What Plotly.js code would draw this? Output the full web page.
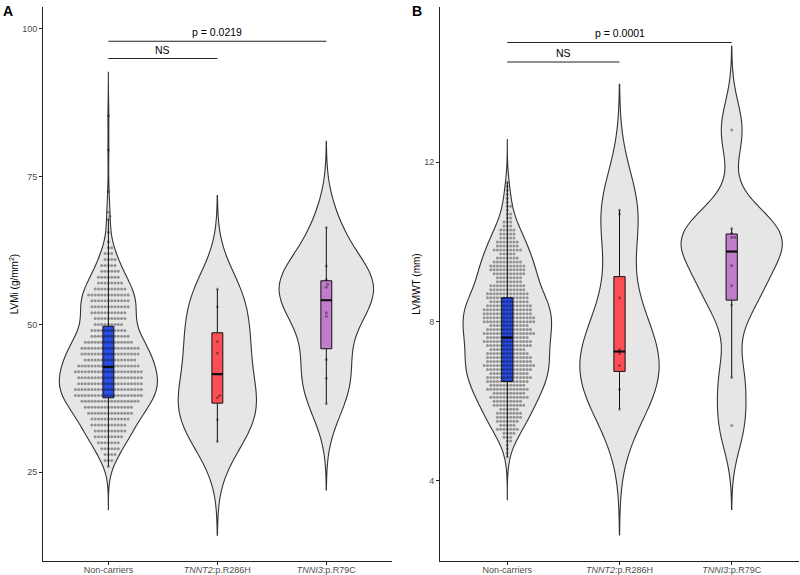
<!DOCTYPE html>
<html><head><meta charset="utf-8">
<script src="https://cdn.plot.ly/plotly-3.0.1.min.js"></script>
<style>html,body{margin:0;padding:0;background:#fff}#chart{width:800px;height:575px}</style>
</head><body><div id="chart"></div>
<script>
// ---------- data ----------
const categories = ['Non-carriers', 'TNNT2:p.R286H', 'TNNI3:p.R79C'];
const tickLabels = ['Non-carriers', '<i>TNNT2</i>:p.R286H', '<i>TNNI3</i>:p.R79C'];

// Panel A: LVMi (g/m²)
const lvmiNonCarrierValues = [26,27,28,29,30,31,32,33,34,35,36,37,38,39,40,41,42,43,44,45,46,47,48,49,50,51,52,53,54,55,56,57,58,59,60,61,62,63,64,65.6,67.8,68.3,69.0,72.5,79.5,85.3];
const lvmiNonCarrierCounts = [1,3,4,6,7,9,10,11,12,14,15,18,21,21,20,20,21,19,16,18,18,15,12,11,9,10,11,12,12,13,10,8,7,6,5,4,3,2,1,1,1,1,1,1,1,1];
const lvmiTNNT2 = [30.2, 33.9, 37.6, 38.0, 45.2, 47.1, 53.0, 56.0];
const lvmiTNNI3 = [36.6, 40.9, 44.1, 51.4, 52.0, 56.3, 56.8, 57.6, 59.9, 66.4];
const lvmiQ1 = [37.6, 36.7, 45.9];
const lvmiMedian = [42.8, 41.6, 54.1];
const lvmiQ3 = [49.7, 48.6, 57.4];
const lvmiWhiskerLow = [26.0, 30.2, 36.6];
const lvmiWhiskerHigh = [67.8, 56.0, 66.4];
const lvmiTickVals = [25, 50, 75, 100];
const lvmiComparisonLabels = ['NS', 'p = 0.0219'];

// Panel B: LVMWT (mm)
const lvmwtNonCarrierValues = [4.6,4.7,4.8,4.9,5.0,5.1,5.2,5.3,5.4,5.5,5.6,5.7,5.8,5.9,6.0,6.1,6.2,6.3,6.4,6.5,6.6,6.7,6.8,6.9,7.0,7.1,7.2,7.3,7.4,7.5,7.6,7.7,7.8,7.9,8.0,8.1,8.2,8.3,8.4,8.5,8.6,8.7,8.8,8.9,9.0,9.1,9.2,9.3,9.4,9.5,9.6,9.7,9.8,9.9,10.0,10.1,10.2,10.3,10.4,10.5,10.6,10.7,10.8,10.9,11.0,11.1,11.2,11.3,11.4,11.5];
const lvmwtNonCarrierCounts = [1,1,1,1,2,3,4,7,5,7,8,8,6,10,9,12,10,13,11,13,14,12,14,16,14,14,13,11,14,15,13,16,14,12,16,16,15,15,14,12,13,13,11,11,8,8,10,11,11,9,7,5,9,7,7,5,5,5,3,3,2,2,1,2,1,1,1,1,1,1];
const lvmwtTNNT2 = [5.8, 6.3, 6.9, 7.2, 7.3, 8.6, 10.7, 10.8];
const lvmwtTNNI3 = [5.39, 6.60, 8.42, 8.90, 9.41, 10.11, 10.12, 10.22, 10.34, 12.81];
const lvmwtQ1 = [6.5, 6.75, 8.54];
const lvmwtMedian = [7.6, 7.25, 9.76];
const lvmwtQ3 = [8.6, 9.13, 10.2];
const lvmwtWhiskerLow = [4.6, 5.8, 6.6];
const lvmwtWhiskerHigh = [11.5, 10.8, 10.34];
const lvmwtTickVals = [4, 8, 12];
const lvmwtComparisonLabels = ['NS', 'p = 0.0001'];

// ---------- styles / geometry ----------
const FONT = 'Liberation Sans, Arial, Helvetica, sans-serif';
const boxColors = ['#2b4fe6', '#fd4f55', '#c17ccb'];
const W = 800, H = 575;
const M = {l: 43, r: 1, t: 7, b: 14};
const plotW = W - M.l - M.r, plotH = H - M.t - M.b;
const domA = [0, (391.7 - M.l) / plotW];
const domB = [(440 - M.l) / plotW, 1];
const xRange = [-0.6, 2.6];
const yRangeA = [10.0, 103.7];
const yRangeB = [1.99, 15.9];
const BOX_W = 0.1;
const VIOLIN_W = 0.9;
const DOT_D = 3.3;

function expand(values, counts) {
  const out = [];
  values.forEach((v, i) => { for (let k = 0; k < counts[i]; k++) out.push(v); });
  return out;
}
function quantile(sorted, p) {
  const h = (sorted.length - 1) * p, lo = Math.floor(h);
  return sorted[lo] + (h - lo) * ((sorted[Math.min(lo + 1, sorted.length - 1)]) - sorted[lo]);
}
function bwNrd0(vals) {
  const s = vals.slice().sort((a, b) => a - b);
  const n = s.length;
  const mean = s.reduce((a, b) => a + b, 0) / n;
  const sd = Math.sqrt(s.reduce((a, b) => a + (b - mean) * (b - mean), 0) / (n - 1));
  const iqr = quantile(s, 0.75) - quantile(s, 0.25);
  const lo = Math.min(sd, iqr / 1.34);
  return 0.9 * lo * Math.pow(n, -0.2);
}
function kdeMax(vals, bw, lo, hi) {
  let best = 0;
  const n = vals.length, c = 1 / (n * bw * Math.sqrt(2 * Math.PI));
  for (let k = 0; k <= 512; k++) {
    const x = lo + (hi - lo) * k / 512;
    let s = 0;
    for (const v of vals) { const z = (x - v) / bw; s += Math.exp(-0.5 * z * z); }
    s *= c;
    if (s > best) best = s;
  }
  return best;
}
function swarm(values, dPx, pxPerY, pxPerX) {
  const pts = values.map(v => ({v: v, y: v * pxPerY})).sort((a, b) => a.y - b.y);
  const placed = [];
  for (const p of pts) {
    const near = placed.filter(q => Math.abs(q.y - p.y) < dPx);
    const cands = [0];
    for (const q of near) {
      const dx = Math.sqrt(dPx * dPx - (q.y - p.y) * (q.y - p.y));
      cands.push(q.x + dx, q.x - dx);
    }
    cands.sort((a, b) => Math.abs(a) - Math.abs(b));
    p.x = 0;
    for (const c of cands) {
      if (near.every(q => (q.x - c) * (q.x - c) + (q.y - p.y) * (q.y - p.y) >= dPx * dPx - 1e-6)) { p.x = c; break; }
    }
    placed.push(p);
  }
  return placed.map(p => ({v: p.v, dx: p.x / pxPerX}));
}

function panelTraces(groups, stats, xa, ya, yRange, dom, tag) {
  const pxPerX = (dom[1] - dom[0]) * plotW / (xRange[1] - xRange[0]);
  const pxPerY = plotH / (yRange[1] - yRange[0]);
  const traces = [];
  // ggplot-like scale = "area": widths proportional to each group's peak density
  const info = groups.map(vals => {
    const bw = bwNrd0(vals);
    const mn = Math.min(...vals), mx = Math.max(...vals);
    const span = [mn - 3 * bw, mx + 3 * bw];
    return {bw: bw, span: span, peak: kdeMax(vals, bw, span[0], span[1])};
  });
  const maxPeak = Math.max(...info.map(d => d.peak));
  groups.forEach((vals, i) => {
    traces.push({
      type: 'violin', x0: i, y: vals, xaxis: xa, yaxis: ya, name: categories[i],
      bandwidth: info[i].bw, spanmode: 'manual', span: info[i].span,
      width: VIOLIN_W * info[i].peak / maxPeak, scalemode: 'width', scalegroup: tag + i, side: 'both',
      fillcolor: '#e6e6e6', line: {color: '#333333', width: 1.1},
      points: false, box: {visible: false}, meanline: {visible: false},
      hoverinfo: 'skip', showlegend: false
    });
  });
  groups.forEach((vals, i) => {
    traces.push({
      type: 'box', x: [i], xaxis: xa, yaxis: ya, name: categories[i],
      q1: [stats.q1[i]], median: [stats.median[i]], q3: [stats.q3[i]],
      lowerfence: [stats.lo[i]], upperfence: [stats.hi[i]],
      width: BOX_W, whiskerwidth: 0, boxpoints: false,
      fillcolor: boxColors[i], line: {color: '#111111', width: 1},
      hoverinfo: 'skip', showlegend: false
    });
  });
  groups.forEach((vals, i) => {
    traces.push({
      type: 'scatter', mode: 'lines', xaxis: xa, yaxis: ya,
      x: [i - BOX_W / 2, i + BOX_W / 2], y: [stats.median[i], stats.median[i]],
      line: {color: '#111111', width: 2.2}, hoverinfo: 'skip', showlegend: false
    });
  });
  groups.forEach((vals, i) => {
    const sw = swarm(vals, DOT_D, pxPerY, pxPerX);
    traces.push({
      type: 'scatter', mode: 'markers', xaxis: xa, yaxis: ya, name: categories[i],
      x: sw.map(p => i + p.dx), y: sw.map(p => p.v),
      marker: {size: 3, color: 'rgba(0,0,0,0.36)', line: {width: 0}},
      hoverinfo: 'skip', showlegend: false
    });
  });
  return traces;
}

const groupsA = [expand(lvmiNonCarrierValues, lvmiNonCarrierCounts), lvmiTNNT2, lvmiTNNI3];
const groupsB = [expand(lvmwtNonCarrierValues, lvmwtNonCarrierCounts), lvmwtTNNT2, lvmwtTNNI3];
const statsA = {q1: lvmiQ1, median: lvmiMedian, q3: lvmiQ3, lo: lvmiWhiskerLow, hi: lvmiWhiskerHigh};
const statsB = {q1: lvmwtQ1, median: lvmwtMedian, q3: lvmwtQ3, lo: lvmwtWhiskerLow, hi: lvmwtWhiskerHigh};

const data = [].concat(
  panelTraces(groupsA, statsA, 'x', 'y', yRangeA, domA, 'A'),
  panelTraces(groupsB, statsB, 'x2', 'y2', yRangeB, domB, 'B')
);

const xAxisBase = {
  type: 'linear', range: xRange, tickmode: 'array', tickvals: [0, 1, 2], ticktext: tickLabels,
  showline: true, linecolor: '#222222', linewidth: 1, ticks: 'outside', ticklen: 3, tickcolor: '#222222',
  ticklabelstandoff: -3,
  tickfont: {family: FONT, size: 9, color: '#4d4d4d'}, showgrid: false, zeroline: false, fixedrange: true
};
const yAxisBase = {
  showline: true, linecolor: '#222222', linewidth: 1, ticks: 'outside', ticklen: 3, tickcolor: '#222222',
  tickfont: {family: FONT, size: 9, color: '#4d4d4d'}, showgrid: false, zeroline: false, fixedrange: true,
  tickmode: 'array'
};

function comparison(xa, ya, x0, x1, yv, label, shiftPx) {
  return {
    shape: {type: 'line', xref: xa, yref: ya, x0: x0, x1: x1, y0: yv, y1: yv, line: {color: '#222222', width: 1.1}, layer: 'above'},
    ann: {xref: xa, yref: ya, x: (x0 + x1) / 2, y: yv, text: label, showarrow: false, yanchor: 'middle', yshift: shiftPx,
          font: {family: FONT, size: 10.5, color: '#000000'}}
  };
}
const comps = [
  comparison('x', 'y', 0, 1, 95.0, lvmiComparisonLabels[0], 8.5),
  comparison('x', 'y', 0, 2, 97.9, lvmiComparisonLabels[1], 9),
  comparison('x2', 'y2', 0, 1, 14.52, lvmwtComparisonLabels[0], 8.5),
  comparison('x2', 'y2', 0, 2, 15.01, lvmwtComparisonLabels[1], 9)
];

const layout = {
  width: W, height: H, margin: M, paper_bgcolor: '#ffffff', plot_bgcolor: '#ffffff',
  showlegend: false, violinmode: 'overlay', boxmode: 'overlay',
  violingap: 0, violingroupgap: 0, boxgap: 0, boxgroupgap: 0,
  font: {family: FONT},
  xaxis: Object.assign({}, xAxisBase, {domain: domA, anchor: 'y'}),
  xaxis2: Object.assign({}, xAxisBase, {domain: domB, anchor: 'y2'}),
  yaxis: Object.assign({}, yAxisBase, {domain: [0, 1], anchor: 'x', range: yRangeA, tickvals: lvmiTickVals,
    title: {text: 'LVMi (g/mm<sup>2</sup>)', font: {family: FONT, size: 10, color: '#000000'}, standoff: 1}}),
  yaxis2: Object.assign({}, yAxisBase, {domain: [0, 1], anchor: 'x2', range: yRangeB, tickvals: lvmwtTickVals,
    title: {text: 'LVMWT (mm)', font: {family: FONT, size: 10, color: '#000000'}, standoff: 1}}),
  shapes: comps.map(c => c.shape),
  annotations: comps.map(c => c.ann).concat([
    {xref: 'paper', yref: 'paper', x: (1 - M.l) / plotW, y: (H - M.b - 1) / plotH, xanchor: 'left', yanchor: 'top',
     text: '<b>A</b>', showarrow: false, font: {family: FONT, size: 14, color: '#000000'}},
    {xref: 'paper', yref: 'paper', x: (410 - M.l) / plotW, y: (H - M.b - 1) / plotH, xanchor: 'left', yanchor: 'top',
     text: '<b>B</b>', showarrow: false, font: {family: FONT, size: 14, color: '#000000'}}
  ])
};

Plotly.newPlot('chart', data, layout, {displayModeBar: false, staticPlot: true});
</script>
</body></html>
